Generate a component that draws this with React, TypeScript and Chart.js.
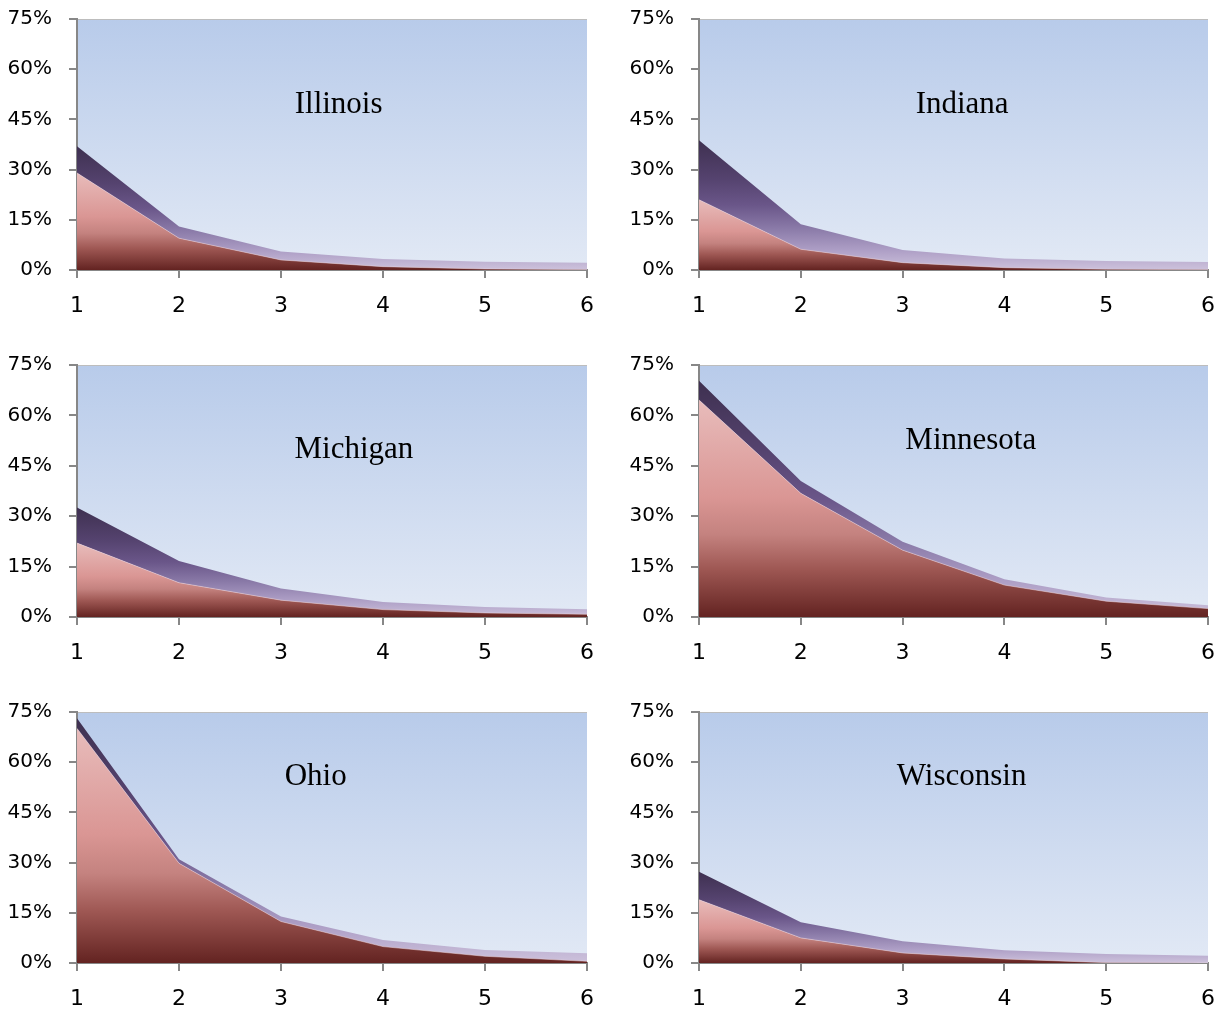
import React, { useEffect, useRef } from 'react';
import { Chart, registerables } from 'chart.js';

Chart.register(...registerables);

// Categories on the x axis and the percent ticks on the y axis
const stages = ['1', '2', '3', '4', '5', '6'];
const percentTicks = [0, 15, 30, 45, 60, 75];

// Lower (red) layer and the upper (purple) layer stacked on top of it, in percent
const illinoisBase = [29, 9.5, 3, 1, 0.3, 0.1];
const illinoisExtra = [8, 3.5, 2.5, 2.3, 2.2, 2.1];

const indianaBase = [21, 6.2, 2.2, 0.7, 0.2, 0.1];
const indianaExtra = [17.8, 7.5, 3.8, 2.7, 2.5, 2.3];

const michiganBase = [22, 10.2, 5, 2.2, 1.2, 0.8];
const michiganExtra = [10.6, 6.5, 3.5, 2.3, 1.8, 1.5];

const minnesotaBase = [64.6, 36.8, 19.9, 9.5, 4.7, 2.5];
const minnesotaExtra = [5.7, 3.7, 2.5, 1.7, 1.1, 1.0];

const ohioBase = [70.1, 29.8, 12.4, 4.9, 2, 0.5];
const ohioExtra = [3, 1.2, 1.5, 2.0, 1.9, 2.4];

const wisconsinBase = [18.9, 7.5, 3, 1.2, 0.1, 0];
const wisconsinExtra = [8.4, 4.7, 3.5, 2.6, 2.6, 2.2];

const states = [
  { name: 'Illinois', base: illinoisBase, extra: illinoisExtra },
  { name: 'Indiana', base: indianaBase, extra: indianaExtra },
  { name: 'Michigan', base: michiganBase, extra: michiganExtra },
  { name: 'Minnesota', base: minnesotaBase, extra: minnesotaExtra },
  { name: 'Ohio', base: ohioBase, extra: ohioExtra },
  { name: 'Wisconsin', base: wisconsinBase, extra: wisconsinExtra },
];

// Grid placement of the six panels
const columns = [
  { left: 0, width: 611, padLeft: 0, padRight: 24 },
  { left: 611, width: 612, padLeft: 11, padRight: 15 },
];
const rows = [
  { top: 0, xAxisHeight: 46 },
  { top: 346, xAxisHeight: 45 },
  { top: 693, xAxisHeight: 46 },
];
const CANVAS_H = 316;
const PAD_TOP = 19;
const Y_AXIS_W = 77;

// Name label placement inside each plot area (fraction of width for the centre, fraction of height for the baseline)
const labelSpots = [
  { fx: 0.513, fy: 0.375 },
  { fx: 0.517, fy: 0.375 },
  { fx: 0.543, fy: 0.369 },
  { fx: 0.534, fy: 0.333 },
  { fx: 0.468, fy: 0.291 },
  { fx: 0.516, fy: 0.291 },
];

const AXIS_GREY = '#878787';

const redStops: [number, string][] = [
  [0, '#E8BCBB'],
  [0.45, '#DA9694'],
  [0.62, '#C4827F'],
  [0.78, '#9E5753'],
  [0.9, '#7E3B38'],
  [1, '#632321'],
];

const purpleStops: [number, string][] = [
  [0, '#3E3050'],
  [0.3, '#55436F'],
  [0.5, '#6A5689'],
  [0.68, '#8A7AA8'],
  [0.85, '#AE9FC6'],
  [1, '#CDC2DC'],
];

function verticalGradient(chart: any, topValue: number, stops: [number, string][]) {
  const { ctx, chartArea, scales } = chart;
  if (!chartArea || !scales.y) return stops[Math.floor(stops.length / 2)][1];
  const top = scales.y.getPixelForValue(topValue);
  const bottom = scales.y.getPixelForValue(0);
  if (bottom - top < 1) return stops[stops.length - 1][1];
  const g = ctx.createLinearGradient(0, top, 0, bottom);
  stops.forEach(([o, c]) => g.addColorStop(o, c));
  return g;
}

const plotBackground = {
  id: 'plotBackground',
  beforeDraw(chart: any) {
    const { ctx, chartArea: a } = chart;
    const g = ctx.createLinearGradient(0, a.top, 0, a.bottom);
    g.addColorStop(0, '#B8CBEA');
    g.addColorStop(1, '#E2E9F5');
    ctx.save();
    ctx.fillStyle = g;
    ctx.fillRect(a.left, a.top, a.right - a.left, a.bottom - a.top);
    ctx.strokeStyle = '#BDBDBD';
    ctx.lineWidth = 1;
    ctx.beginPath();
    ctx.moveTo(a.left, a.top + 0.5);
    ctx.lineTo(a.right, a.top + 0.5);
    ctx.stroke();
    ctx.restore();
  },
};

const stateLabel = {
  id: 'stateLabel',
  afterDatasetsDraw(chart: any, _args: any, opts: any) {
    const { ctx, chartArea: a } = chart;
    ctx.save();
    ctx.font = '31px "Liberation Serif", "Times New Roman", serif';
    ctx.fillStyle = '#000';
    ctx.textAlign = 'center';
    ctx.textBaseline = 'alphabetic';
    ctx.fillText(opts.text, a.left + (a.right - a.left) * opts.fx, a.top + (a.bottom - a.top) * opts.fy);
    ctx.restore();
  },
};

function Panel({ index }: { index: number }) {
  const ref = useRef<HTMLCanvasElement | null>(null);
  const state = states[index];
  const col = columns[index % 2];
  const row = rows[Math.floor(index / 2)];

  useEffect(() => {
    if (!ref.current) return;
    const totals = state.base.map((v, i) => v + state.extra[i]);
    const baseMax = Math.max(...state.base);
    const totalMax = Math.max(...totals);

    const gridOpts = {
      drawOnChartArea: false,
      drawTicks: true,
      tickLength: 8,
      color: AXIS_GREY,
      lineWidth: 2,
    };
    const borderOpts = { display: true, color: AXIS_GREY, width: 2 };

    const chart = new Chart(ref.current, {
      type: 'line',
      data: {
        labels: stages,
        datasets: [
          {
            label: 'base',
            data: state.base,
            fill: 'origin',
            backgroundColor: (c: any) => verticalGradient(c.chart, baseMax, redStops),
            borderColor: 'rgba(238,214,224,0.5)',
            borderWidth: 1,
            pointRadius: 0,
            tension: 0,
          },
          {
            label: 'extra',
            data: state.extra,
            fill: '-1',
            backgroundColor: (c: any) => verticalGradient(c.chart, totalMax, purpleStops),
            borderWidth: 0,
            pointRadius: 0,
            tension: 0,
          },
        ],
      },
      options: {
        responsive: false,
        animation: false,
        events: [],
        layout: {
          padding: { top: PAD_TOP, left: col.padLeft, right: col.padRight, bottom: 0 },
        },
        plugins: {
          legend: { display: false },
          tooltip: { enabled: false },
          title: { display: false },
          stateLabel: { text: state.name, ...labelSpots[index] },
        } as any,
        scales: {
          x: {
            type: 'category',
            offset: false,
            grid: gridOpts,
            border: borderOpts,
            ticks: {
              color: '#000',
              font: { family: '"DejaVu Sans"', size: 22 },
              padding: 15,
              maxRotation: 0,
              autoSkip: false,
            },
            afterFit: (s: any) => {
              s.height = row.xAxisHeight;
              s.paddingLeft = 0;
              s.paddingRight = 0;
            },
            z: 1,
          },
          y: {
            stacked: true,
            min: 0,
            max: 75,
            afterBuildTicks: (s: any) => {
              s.ticks = percentTicks.map((v) => ({ value: v }));
            },
            grid: gridOpts,
            border: borderOpts,
            ticks: {
              color: '#000',
              font: { family: '"DejaVu Sans"', size: 20 },
              padding: 17,
              callback: (v: any) => `${v}%`,
            },
            afterFit: (s: any) => {
              s.width = Y_AXIS_W;
              s.paddingTop = 0;
              s.paddingBottom = 0;
            },
            z: 1,
          },
        },
      } as any,
      plugins: [plotBackground, stateLabel],
    });
    return () => chart.destroy();
  }, [index]);

  return (
    <canvas
      ref={ref}
      width={col.width}
      height={CANVAS_H}
      style={{
        position: 'absolute',
        left: col.left,
        top: row.top,
        width: col.width,
        height: CANVAS_H,
      }}
    />
  );
}

export default function App() {
  return (
    <div
      style={{
        position: 'absolute',
        left: 0,
        top: 0,
        width: 1223,
        height: 1009,
        overflow: 'hidden',
        background: '#fff',
      }}
    >
      {states.map((s, i) => (
        <Panel key={s.name} index={i} />
      ))}
    </div>
  );
}
